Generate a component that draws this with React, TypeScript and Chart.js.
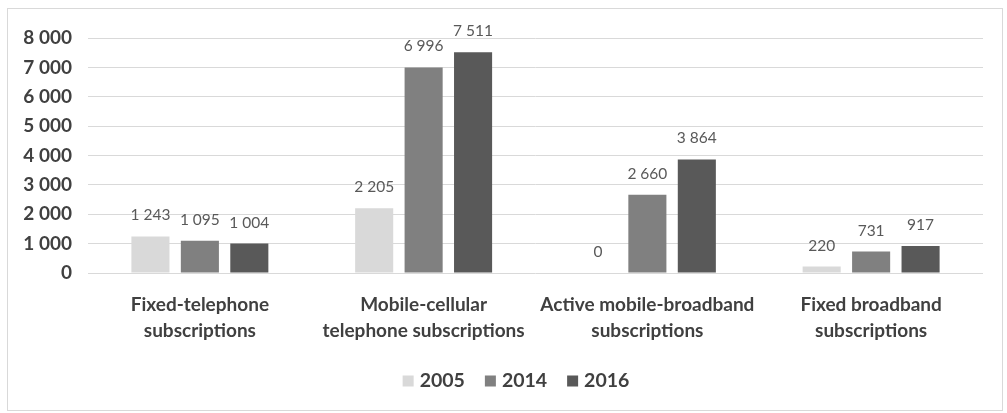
import React, { useEffect, useRef } from "react";
import { Chart, registerables } from "chart.js";

Chart.register(...registerables);

const categories: string[][] = [
  ["Fixed-telephone", "subscriptions"],
  ["Mobile-cellular", "telephone subscriptions"],
  ["Active mobile-broadband", "subscriptions"],
  ["Fixed broadband", "subscriptions"],
];
const seriesNames = ["2005", "2014", "2016"];
const values2005 = [1243, 2205, 0, 220];
const values2014 = [1095, 6996, 2660, 731];
const values2016 = [1004, 7511, 3864, 917];
const seriesColors = ["#d9d9d9", "#808080", "#595959"];
const yMax = 8000;
const yStep = 1000;

const fmt = (n: number) => String(n).replace(/\B(?=(\d{3})+(?!\d))/g, " ");

const FONT = "Lato, 'Noto Sans', sans-serif";

const framePlugin = {
  id: "frame",
  beforeDraw(chart: any) {
    const ctx = chart.ctx;
    ctx.save();
    ctx.fillStyle = "#ffffff";
    ctx.fillRect(0, 0, chart.width, chart.height);
    ctx.strokeStyle = "#d9d9d9";
    ctx.lineWidth = 1;
    ctx.strokeRect(7.5, 8.5, 995, 402);
    ctx.restore();
  },
};

const labelPlugin = {
  id: "valueLabels",
  afterDatasetsDraw(chart: any) {
    const ctx = chart.ctx;
    ctx.save();
    ctx.font = `15.5px ${FONT}`;
    ctx.fillStyle = "#595959";
    ctx.textAlign = "center";
    ctx.textBaseline = "middle";
    chart.data.datasets.forEach((ds: any, i: number) => {
      const meta = chart.getDatasetMeta(i);
      meta.data.forEach((el: any, j: number) => {
        ctx.fillText(fmt(ds.data[j]), el.x, el.y - 21);
      });
    });
    ctx.restore();
  },
};

const legendPlugin = {
  id: "bottomLegend",
  afterDraw(chart: any) {
    const ctx = chart.ctx;
    ctx.save();
    ctx.font = `bold 19.5px ${FONT}`;
    ctx.textBaseline = "middle";
    ctx.textAlign = "left";
    const box = 11;
    const gap = 6;
    const spacing = 20;
    const items = chart.data.datasets.map((ds: any) => ({
      text: ds.label,
      color: ds.backgroundColor,
      w: box + gap + ctx.measureText(ds.label).width,
    }));
    const total = items.reduce((s: number, it: any) => s + it.w, 0) + spacing * (items.length - 1);
    const cx = 516;
    const cy = 381;
    let x = cx - total / 2;
    items.forEach((it: any) => {
      ctx.fillStyle = it.color;
      ctx.fillRect(x, cy - box / 2, box, box);
      ctx.fillStyle = "#404040";
      ctx.fillText(it.text, x + box + gap, cy);
      x += it.w + spacing;
    });
    ctx.restore();
  },
};

export default function App() {
  const ref = useRef<HTMLCanvasElement | null>(null);
  useEffect(() => {
    if (!ref.current) return;
    const data = [values2005, values2014, values2016];
    const chart = new Chart(ref.current, {
      type: "bar",
      data: {
        labels: categories,
        datasets: seriesNames.map((name, i) => ({
          label: name,
          data: data[i],
          backgroundColor: seriesColors[i],
          borderColor: seriesColors[i],
          borderWidth: 0,
          categoryPercentage: 0.663,
          barPercentage: 0.77,
        })),
      },
      options: {
        animation: false,
        responsive: true,
        maintainAspectRatio: false,
        layout: { padding: { left: 0, right: 24, top: 38, bottom: 62 } },
        plugins: {
          tooltip: { enabled: false },
          legend: { display: false },
        },
        scales: {
          x: {
            grid: { display: false, drawTicks: false },
            border: { display: false },
            ticks: {
              color: "#404040",
              font: { family: FONT, size: 19, weight: "bold", lineHeight: 1.37 },
              padding: 19,
              maxRotation: 0,
              autoSkip: false,
            },
            afterFit(scale: any) {
              scale.height = 78;
            },
          },
          y: {
            min: 0,
            max: yMax,
            grid: { color: "#d9d9d9", drawTicks: false },
            border: { display: false },
            ticks: {
              stepSize: yStep,
              color: "#404040",
              padding: 16,
              font: { family: FONT, size: 19, weight: "bold" },
              callback: (v: any) => fmt(Number(v)),
            },
            afterFit(scale: any) {
              scale.width = 88;
            },
          },
        },
      },
      plugins: [framePlugin, labelPlugin, legendPlugin],
    });
    return () => chart.destroy();
  }, []);
  return (
    <div style={{ position: "absolute", left: 0, top: 0, width: 1007, height: 413 }}>
      <canvas ref={ref} />
    </div>
  );
}
